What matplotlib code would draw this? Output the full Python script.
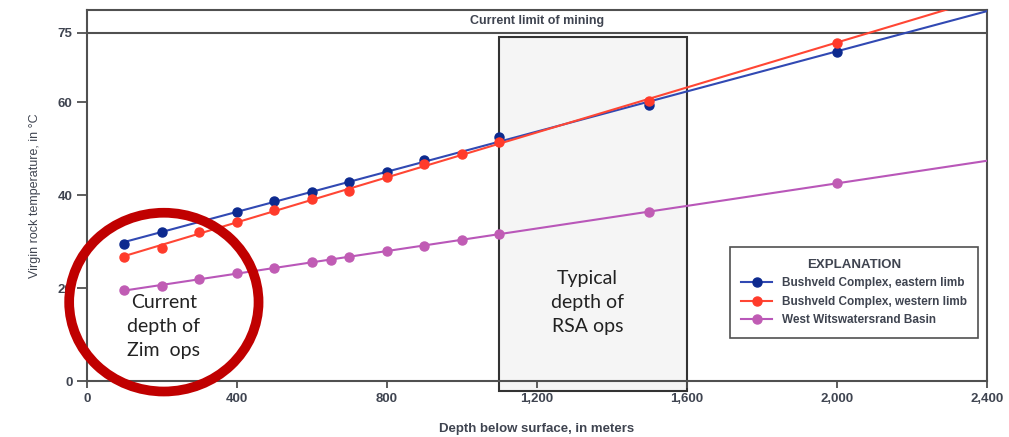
import numpy as np
import matplotlib
matplotlib.use("Agg")
import matplotlib.pyplot as plt
from matplotlib import font_manager
from matplotlib.patches import Rectangle, Ellipse

# data
depth_east = [100, 200, 400, 500, 600, 700, 800, 900, 1100, 1500, 2000]
temp_east = [29.5, 32.1, 36.4, 38.8, 40.7, 42.9, 45.0, 47.6, 52.6, 59.5, 70.9]

depth_west = [100, 200, 300, 400, 500, 600, 700, 800, 900, 1000, 1100, 1500, 2000]
temp_west = [26.7, 28.7, 32.0, 34.3, 36.9, 39.2, 41.0, 44.0, 46.8, 48.9, 51.5, 60.3, 72.8]

depth_wits = [100, 200, 300, 400, 500, 600, 650, 700, 800, 900, 1000, 1100, 1500, 2000]
temp_wits = [19.6, 20.5, 22.0, 23.3, 24.4, 25.7, 26.1, 26.7, 28.0, 29.1, 30.4, 31.7, 36.4, 42.7]

labels = ["Bushveld Complex, eastern limb", "Bushveld Complex, western limb",
          "West Witswatersrand Basin"]

x_ticks = [0, 400, 800, 1200, 1600, 2000, 2400]
x_ticklabels = ["0", "400", "800", "1,200", "1,600", "2,000", "2,400"]
y_ticks = [0, 20, 40, 60, 75]

mining_limit = 75
rsa_range = (1100, 1600)
zim_center = (205, 17)

# fonts
names = {f.name for f in font_manager.fontManager.ttflist}
main_font = "Liberation Sans Narrow" if "Liberation Sans Narrow" in names else "Liberation Sans"
plt.rcParams["font.family"] = [main_font, "DejaVu Sans"]
callout = ["Lato", "DejaVu Sans"]

fig = plt.figure(figsize=(10.09, 4.37), dpi=100)
ax = fig.add_axes([0.0862, 0.128, 0.892, 0.850])

grey = "#505050"
txt = "#3f4450"

series = [
    (depth_east, temp_east, "#0d2a8f", "#3149b3"),
    (depth_west, temp_west, "#ff3b2b", "#ff4634"),
    (depth_wits, temp_wits, "#c05cb4", "#b957b9"),
]
for (d, t, mc, lc), lab in zip(series, labels):
    k, b = np.polyfit(d, t, 1)
    xs = np.array([d[0], 2400])
    ax.plot(xs, k * xs + b, color=lc, lw=1.5, zorder=3)
    ax.plot(d, t, linestyle="", marker="o", ms=6.5, color=mc, zorder=4)
    ax.plot([], [], color=lc, lw=1.5, marker="o", ms=6.5, mfc=mc, mec=mc, label=lab)

# current limit of mining
ax.axhline(mining_limit, color=grey, lw=1.5, zorder=2)
ax.text(1200, 77.6, "Current limit of mining", ha="center",
        va="center", fontsize=9, fontweight="bold", color=txt)

# typical RSA depth box
ax.add_patch(Rectangle((rsa_range[0], -2.15), rsa_range[1] - rsa_range[0], 76.3,
                       facecolor="#f5f5f5", edgecolor="#333333", lw=1.5,
                       zorder=1, clip_on=False))
ax.text(1335, 17, "Typical\ndepth of\nRSA ops", ha="center", va="center",
        fontsize=14, family=callout, color="#222222", linespacing=1.5, zorder=5)

# Zimbabwe circle
ax.add_patch(Ellipse(zim_center, 505, 38.5, facecolor="none", edgecolor="#c00000",
                     lw=7, zorder=6, clip_on=False))
ax.text(205, 11.8, "Current\ndepth of\nZim  ops", ha="center", va="center",
        fontsize=14, family=callout, color="#222222", linespacing=1.5, zorder=5)

ax.set_xlim(0, 2400)
ax.set_ylim(0, 80)
ax.set_xticks(x_ticks)
ax.set_xticklabels(x_ticklabels)
ax.set_yticks(y_ticks)
ax.tick_params(axis="both", colors=grey, labelcolor=txt, labelsize=9.5, width=1.3)
ax.tick_params(axis="y", length=7)
ax.tick_params(axis="x", length=5)
for lab in ax.get_xticklabels() + ax.get_yticklabels():
    lab.set_fontweight("bold")
for s in ax.spines.values():
    s.set_color(grey)
    s.set_linewidth(1.5)

ax.set_xlabel("Depth below surface, in meters", fontsize=9.5, fontweight="bold",
              color=txt, labelpad=13)
ax.set_ylabel("Virgin rock temperature, in \u00b0C", fontsize=9, color=txt, labelpad=12)

leg = ax.legend(loc="upper left", bbox_to_anchor=(0.714, 0.361), borderaxespad=0,
                title="EXPLANATION", fancybox=False, edgecolor=grey, framealpha=1,
                fontsize=8.5, handlelength=2.6, labelspacing=0.55, borderpad=1.0)
leg.get_frame().set_linewidth(1.2)
leg.get_title().set_fontweight("bold")
leg.get_title().set_fontsize(9.5)
leg.get_title().set_color(txt)
for t in leg.get_texts():
    t.set_fontweight("bold")
    t.set_color(txt)

fig.savefig("out.png", dpi=100)
